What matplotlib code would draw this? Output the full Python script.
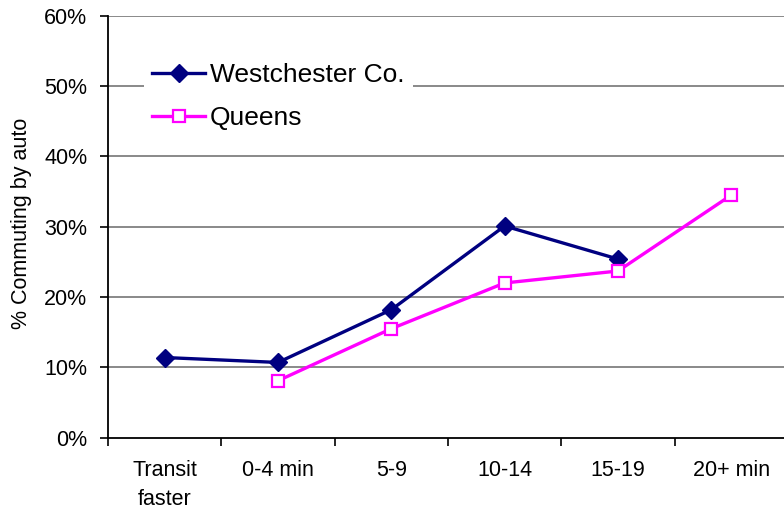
import numpy as np
import matplotlib.pyplot as plt

plt.rcParams['font.family'] = ['Liberation Sans', 'DejaVu Sans']

# data
categories = ["Transit\nfaster", "0-4 min", "5-9", "10-14", "15-19", "20+ min"]
westchester = [11.4, 10.7, 18.2, 30.1, 25.4, np.nan]
queens = [np.nan, 8.1, 15.5, 22.0, 23.7, 34.5]
yticks = [0, 10, 20, 30, 40, 50, 60]

fig = plt.figure(figsize=(7.84, 5.12), dpi=100)
ax = fig.add_axes([108 / 784, 1 - 437.7 / 512, 680 / 784, (437.7 - 15.7) / 512])

x = np.arange(len(categories))
ax.plot(x, westchester, color='#000080', lw=2.4, marker='D', ms=9,
        label='Westchester Co.', zorder=3)
ax.plot(x, queens, color='#FF00FF', lw=2.4, marker='s', ms=8,
        mfc='white', mec='#FF00FF', mew=1.6, label='Queens', zorder=3)

ax.set_xlim(-0.5, len(categories) - 0.5)
ax.set_ylim(0, 60)
ax.set_yticks(yticks)
ax.set_yticklabels([f"{v}%" for v in yticks])
ax.set_xticks(x)
ax.set_xticklabels(categories, linespacing=1.5)
ax.set_xticks(np.arange(len(categories) + 1) - 0.5, minor=True)
ax.tick_params(axis='x', which='major', length=0, pad=16, labelsize=15.5)
ax.tick_params(axis='x', which='minor', length=6, width=1.2, direction='out')
ax.tick_params(axis='y', length=6, width=1.2, direction='out', pad=9, labelsize=15.5)

for v in yticks[1:]:
    ax.axhline(v, color='#808080', lw=1.3, zorder=1)

ax.spines['top'].set_visible(False)
ax.spines['right'].set_visible(False)
ax.spines['left'].set_linewidth(1.3)
ax.spines['bottom'].set_linewidth(1.3)

ax.set_ylabel("% Commuting by auto", fontsize=15.5)
ax.yaxis.set_label_coords(32 / 784, 1 - 223 / 512, transform=fig.transFigure)

leg = ax.legend(loc='upper left', bbox_to_anchor=(131 / 784, 1 - 42 / 512),
                bbox_transform=fig.transFigure, fontsize=19, frameon=True,
                facecolor='white', edgecolor='none', framealpha=1,
                fancybox=False, handlelength=2.0, handletextpad=0.2,
                labelspacing=0.72, borderpad=0.3)
leg.get_frame().set_linewidth(0)

fig.savefig("out.png", dpi=100)
